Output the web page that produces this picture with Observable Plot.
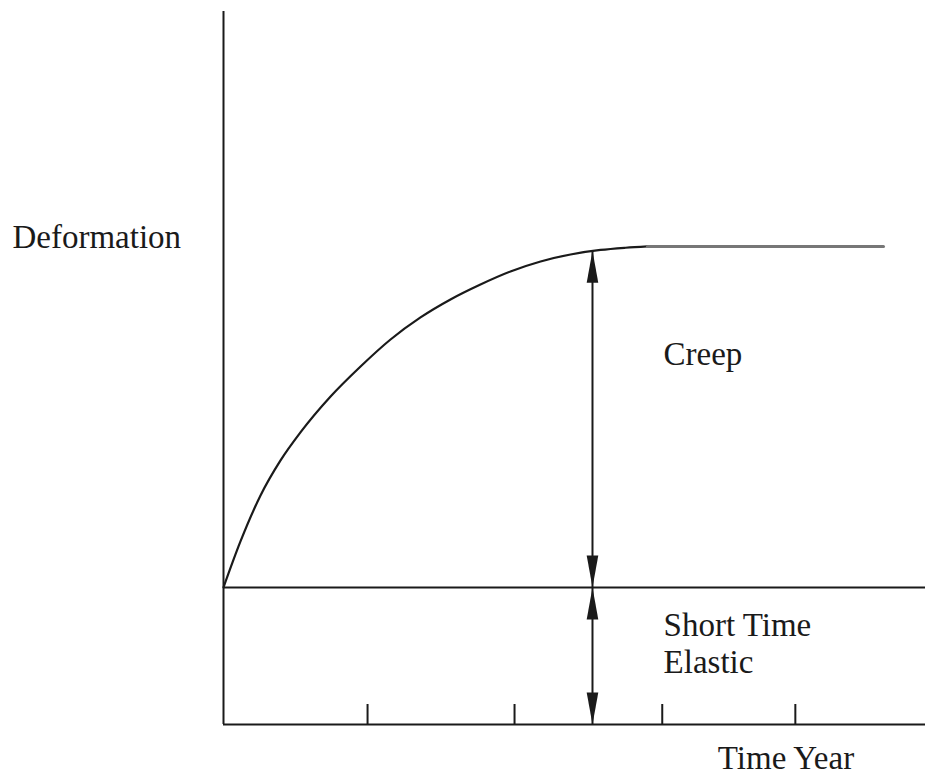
<!DOCTYPE html>
<html>
<head>
<meta charset="utf-8">
<script src="https://cdn.jsdelivr.net/npm/d3@7"></script>
<script src="https://cdn.jsdelivr.net/npm/@observablehq/plot@0.6"></script>
<style>
  html, body { margin: 0; padding: 0; background: #fff; }
  #chart svg { display: block; }
</style>
</head>
<body>
<div id="chart"></div>
<script>
// ---- data (time in arbitrary years, deformation in units of the elastic deformation) ----
const curveTime        = [0, 0.116, 0.253, 0.390, 0.526, 0.732, 0.937, 1.142, 1.347, 1.552, 1.757, 1.962, 2.168, 2.373, 2.578, 2.749, 2.899];
const curveDeformation = [1.0, 1.335, 1.670, 1.926, 2.130, 2.392, 2.611, 2.808, 2.969, 3.100, 3.209, 3.304, 3.377, 3.428, 3.461, 3.477, 3.487];
const plateauTime        = [2.899, 4.513];
const plateauDeformation = [3.487, 3.487];
const elasticDeformation = 1.0;
const tickTimes = [0.985, 1.99, 3.0, 3.91];
const arrowTime = 2.523;
const creepTop = 3.455;
const labelTexts = ["Deformation", "Creep", "Short Time", "Elastic", "Time Year"];
const labelTime  = [-1.443, 3.009, 3.009, 3.009, 3.38];
const labelDef   = [3.472, 2.619, 0.649, 0.372, -0.321];

// ---- tables built from the arrays ----
const curve = curveTime.map((t, i) => ({t, d: curveDeformation[i]}));
const plateau = plateauTime.map((t, i) => ({t, d: plateauDeformation[i]}));
const labels = labelTexts.map((text, i) => ({text, t: labelTime[i], d: labelDef[i]}));
const heads = [
  {t: arrowTime, d: creepTop, dir: 0},
  {t: arrowTime, d: elasticDeformation, dir: 180},
  {t: arrowTime, d: elasticDeformation, dir: 0},
  {t: arrowTime, d: 0, dir: 180}
];

// slender filled arrowhead, tip at origin, pointing up
const arrowHead = {
  draw(ctx) {
    ctx.moveTo(0, 0);
    ctx.lineTo(5.8, 32);
    ctx.lineTo(-5.8, 32);
    ctx.closePath();
  }
};

const font = "'Liberation Serif', 'Times New Roman', Times, serif";
const ink = "#1a1a1a";

const chart = Plot.plot({
  width: 925,
  height: 775,
  marginLeft: 223,
  marginRight: 0,
  marginTop: 11,
  marginBottom: 51,
  x: {domain: [0, 4.8], axis: null},
  y: {domain: [0, 5.2], axis: null},
  style: {background: "#fff", overflow: "visible"},
  marks: [
    // axis lines
    Plot.ruleX([0], {stroke: ink, strokeWidth: 2}),
    Plot.ruleY([0], {stroke: ink, strokeWidth: 2}),
    // ticks pointing up from the time axis
    Plot.axisX({ticks: tickTimes, tickSize: 20, dy: -20, tickFormat: () => "", label: null, stroke: ink, strokeWidth: 2, strokeOpacity: 1}),
    // short-time elastic level
    Plot.ruleY([elasticDeformation], {stroke: ink, strokeWidth: 2}),
    // creep curve + plateau
    Plot.line(curve, {x: "t", y: "d", curve: "monotone-x", stroke: ink, strokeWidth: 2.2}),
    Plot.line(plateau, {x: "t", y: "d", stroke: "#777", strokeWidth: 3}),
    // double-headed dimension arrows
    Plot.ruleX([arrowTime], {y1: 0, y2: creepTop, stroke: ink, strokeWidth: 2}),
    Plot.dot(heads, {x: "t", y: "d", symbol: arrowHead, rotate: "dir", fill: ink, stroke: "none", r: 5}),
    // labels
    Plot.text(labels, {x: "t", y: "d", text: "text", textAnchor: "start", lineAnchor: "bottom",
      fontFamily: font, fontSize: 33, fill: ink, clip: false})
  ]
});

document.getElementById("chart").appendChild(chart);
</script>
</body>
</html>
